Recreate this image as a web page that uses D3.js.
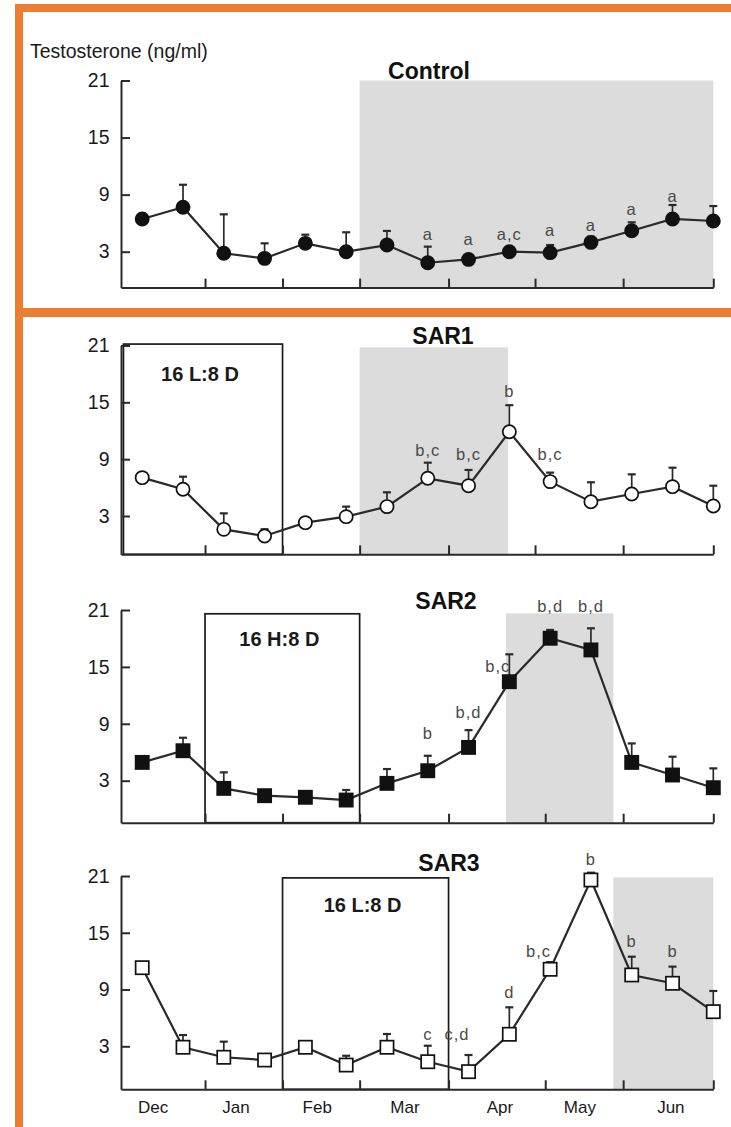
<!DOCTYPE html>
<html>
<head>
<meta charset="utf-8">
<script src="https://cdn.jsdelivr.net/npm/d3@7"></script>
<style>
  body { margin: 0; background: #fff; }
  svg text { font-family: "Liberation Sans", Arial, sans-serif; }
</style>
</head>
<body>
<div id="chart"></div>
<script>
const W = 731
const H = 1127

// --- Data ---

// sample index (two-week sampling, Dec to Jun)
const samples = [0, 1, 2, 3, 4, 5, 6, 7, 8, 9, 10, 11, 12, 13, 14]

// month labels and where they sit (in sample units)
const months = ["Dec", "Jan", "Feb", "Mar", "Apr", "May", "Jun"]
const monthPos = [0.27, 2.30, 4.29, 6.44, 8.77, 10.73, 12.96]

// month boundary ticks (in sample units)
const ticksUpper = [1.54, 3.44, 5.33, 7.51, 9.63, 11.79, 14]
const ticksLower = [1.54, 3.44, 5.33, 7.51, 9.88, 11.79, 14]

const yTicks = [3, 9, 15, 21]

// testosterone means (ng/ml)
const controlMean = [6.44, 7.67, 2.83, 2.3, 3.88, 3.0, 3.7, 1.84, 2.19, 3.0, 2.9, 3.98, 5.2, 6.44, 6.23]
const sar1Mean = [7.05, 5.82, 1.59, 0.89, 2.3, 2.93, 3.99, 6.98, 6.2, 11.9, 6.63, 4.51, 5.32, 6.1, 4.06]
const sar2Mean = [4.93, 6.16, 2.19, 1.42, 1.25, 0.96, 2.72, 4.05, 6.51, 13.44, 18.02, 16.79, 4.93, 3.6, 2.26]
const sar3Mean = [11.31, 2.9, 1.84, 1.55, 2.9, 1.02, 2.9, 1.37, 0.32, 4.27, 11.14, 20.58, 10.54, 9.66, 6.66]

// upper error bar (SEM)
const controlErr = [0, 2.37, 4.1, 1.58, 0.91, 2.04, 1.48, 1.69, 0, 0, 0.8, 0.6, 0.89, 1.47, 1.57]
const sar1Err = [0, 1.33, 1.69, 0.71, 0, 1.06, 1.51, 1.65, 1.66, 2.8, 0.95, 2.05, 2.08, 2.0, 2.14]
const sar2Err = [0, 1.37, 1.69, 0, 0, 1.06, 1.51, 1.58, 1.82, 2.89, 0.88, 2.28, 2.0, 1.93, 2.04]
const sar3Err = [0, 1.29, 1.65, 0.3, 0, 0.98, 1.4, 1.69, 1.76, 2.85, 0.76, 0.77, 1.93, 1.76, 2.19]

// significance letters: [sample, text, y value of baseline, anchor]
const controlLetters = [[7, "a", 4.23], [8, "a", 3.7], [9, "a,c", 4.23], [10, "a", 4.65], [11, "a", 5.18], [12, "a", 6.86], [13, "a", 8.26]]
const sar1Letters = [[7, "b,c", 9.34], [8, "b,c", 8.91], [9, "b", 15.53], [10, "b,c", 8.91]]
const sar2Letters = [[7, "b", 7.37], [8, "b,d", 9.58], [9, "b,c", 14.43, "end"], [10, "b,d", 20.83], [11, "b,d", 20.83]]
const sar3Letters = [[7, "c", 3.67], [8, "c,d", 3.67, "end"], [9, "d", 8.1], [10, "b,c", 12.47, "end"], [11, "b", 22.17], [12, "b", 13.47], [13, "b", 12.41]]

// grey shaded periods [from, to, top]
const controlShade = [5.33, 14, 21]
const sar1Shade = [5.33, 8.97, 20.8]
const sar2Shade = [8.92, 11.55, 20.65]
const sar3Shade = [11.55, 14, 20.86]

// long-day boxes [from, to, top, label]
const sar1Box = [-0.46, 3.44, 21.15, "16 L:8 D"]
const sar2Box = [1.54, 5.33, 20.6, "16 H:8 D"]
const sar3Box = [3.44, 7.51, 20.8, "16 L:8 D"]

// --- Layout ---
const panels = [
  { title: "Control", mean: controlMean, err: controlErr, letters: controlLetters, shade: controlShade, box: null,
    marker: "circle", fill: "#111", ticks: ticksUpper, y3: 251.7, y21: 80.5, axisY: 287.6, titleX: 429, titleY: 79 },
  { title: "SAR1", mean: sar1Mean, err: sar1Err, letters: sar1Letters, shade: sar1Shade, box: sar1Box,
    marker: "circle", fill: "#fff", ticks: ticksUpper, y3: 516, y21: 345.5, axisY: 554.3, titleX: 443, titleY: 344 },
  { title: "SAR2", mean: sar2Mean, err: sar2Err, letters: sar2Letters, shade: sar2Shade, box: sar2Box,
    marker: "square", fill: "#111", ticks: ticksLower, y3: 780.7, y21: 610, axisY: 822.7, titleX: 446, titleY: 609 },
  { title: "SAR3", mean: sar3Mean, err: sar3Err, letters: sar3Letters, shade: sar3Shade, box: sar3Box,
    marker: "square", fill: "#fff", ticks: ticksLower, y3: 1046.3, y21: 876, axisY: 1089.3, titleX: 449, titleY: 871 }
]

const ink = "#1a1a1a"
const orange = "#ED7D31"

const svg = d3.select("#chart")
  .append("svg")
    .attr("width", W)
    .attr("height", H)

// orange frame
svg.append("rect").attr("x", 15).attr("y", 4).attr("width", W - 15).attr("height", 8).attr("fill", orange)
svg.append("rect").attr("x", 15).attr("y", 4).attr("width", 8).attr("height", H - 4).attr("fill", orange)
svg.append("rect").attr("x", 15).attr("y", 308).attr("width", W - 15).attr("height", 9).attr("fill", orange)

const xScale = d3.scaleLinear()
  .domain([-0.52, 14])
  .range([121, 713.3])

svg.append("text")
  .attr("x", 30)
  .attr("y", 58)
  .attr("font-size", 19.5)
  .attr("fill", ink)
  .text("Testosterone (ng/ml)")

const drawPanel = (p) => {
  // y scale: 3 and 21 fixed, axis sits a little below zero
  const base = d3.scaleLinear().domain([3, 21]).range([p.y3, p.y21])
  const yMin = base.invert(p.axisY)
  const yScale = d3.scaleLinear().domain([yMin, 21]).range([p.axisY, p.y21])

  const g = svg.append("g")

  // shaded period
  g.append("rect")
    .attr("x", xScale(p.shade[0]))
    .attr("y", yScale(p.shade[2]))
    .attr("width", xScale(p.shade[1]) - xScale(p.shade[0]))
    .attr("height", p.axisY - yScale(p.shade[2]))
    .attr("fill", "#dcdcdc")

  // photoperiod box
  if (p.box) {
    g.append("rect")
      .attr("x", xScale(p.box[0]))
      .attr("y", yScale(p.box[2]))
      .attr("width", xScale(p.box[1]) - xScale(p.box[0]))
      .attr("height", p.axisY - yScale(p.box[2]))
      .attr("fill", "none")
      .attr("stroke", ink)
      .attr("stroke-width", 1.7)
    g.append("text")
      .attr("x", (xScale(p.box[0]) + xScale(p.box[1])) / 2 - 3)
      .attr("y", yScale(17.2))
      .attr("text-anchor", "middle")
      .attr("font-size", 20)
      .attr("font-weight", "bold")
      .attr("fill", ink)
      .text(p.box[3])
  }

  // axes
  const yAxis = g.append("g")
    .attr("transform", `translate(${xScale.range()[0]}, 0)`)
    .call(d3.axisLeft(yScale).tickValues(yTicks).tickSize(-9).tickSizeOuter(0).tickPadding(11.5))
  const xAxis = g.append("g")
    .attr("transform", `translate(0, ${p.axisY})`)
    .call(d3.axisBottom(xScale).tickValues(p.ticks).tickSize(-9).tickSizeOuter(0).tickFormat(""))

  ;[yAxis, xAxis].forEach(a => {
    a.select(".domain").attr("stroke", "#2a2a2a").attr("stroke-width", 2)
    a.selectAll(".tick line").attr("stroke", "#2a2a2a").attr("stroke-width", 2)
  })
  yAxis.selectAll(".tick text")
    .attr("font-size", 19.5)
    .attr("fill", ink)
    .attr("font-family", "Liberation Sans, Arial, sans-serif")

  // connecting line
  const line = d3.line()
    .x(i => xScale(i))
    .y(i => yScale(p.mean[i]))
  g.append("path")
    .datum(samples)
    .attr("d", line)
    .attr("fill", "none")
    .attr("stroke", "#2a2a2a")
    .attr("stroke-width", 2.2)

  // error bars (upper only)
  const withErr = samples.filter(i => p.err[i] > 0)
  g.selectAll(".err")
    .data(withErr)
    .join("line")
      .attr("x1", i => xScale(i))
      .attr("x2", i => xScale(i))
      .attr("y1", i => yScale(p.mean[i]))
      .attr("y2", i => yScale(p.mean[i] + p.err[i]))
      .attr("stroke", "#2a2a2a")
      .attr("stroke-width", 1.7)
  g.selectAll(".cap")
    .data(withErr)
    .join("line")
      .attr("x1", i => xScale(i) - 4)
      .attr("x2", i => xScale(i) + 4)
      .attr("y1", i => yScale(p.mean[i] + p.err[i]))
      .attr("y2", i => yScale(p.mean[i] + p.err[i]))
      .attr("stroke", "#2a2a2a")
      .attr("stroke-width", 2.2)

  // markers
  if (p.marker === "circle") {
    g.selectAll(".pt")
      .data(samples)
      .join("circle")
        .attr("cx", i => xScale(i))
        .attr("cy", i => yScale(p.mean[i]))
        .attr("r", 6.6)
        .attr("fill", p.fill)
        .attr("stroke", "#111")
        .attr("stroke-width", 1.7)
  } else {
    g.selectAll(".pt")
      .data(samples)
      .join("rect")
        .attr("x", i => xScale(i) - 6.6)
        .attr("y", i => yScale(p.mean[i]) - 6.6)
        .attr("width", 13.2)
        .attr("height", 13.2)
        .attr("fill", p.fill)
        .attr("stroke", "#111")
        .attr("stroke-width", 1.7)
  }

  // significance letters
  g.selectAll(".letter")
    .data(p.letters)
    .join("text")
      .attr("x", d => d[3] === "end" ? xScale(d[0]) + 1 : xScale(d[0]))
      .attr("y", d => yScale(d[2]))
      .attr("text-anchor", d => d[3] || "middle")
      .attr("font-size", 16.5)
      .attr("letter-spacing", 1)
      .attr("fill", "#4a4a4a")
      .text(d => d[1])

  // panel title
  g.append("text")
    .attr("x", p.titleX)
    .attr("y", p.titleY)
    .attr("text-anchor", "middle")
    .attr("font-size", 23)
    .attr("font-weight", "bold")
    .attr("fill", "#111")
    .text(p.title)
}

panels.forEach(drawPanel)

// month labels under the last panel
svg.selectAll(".month")
  .data(months)
  .join("text")
    .attr("x", (d, i) => xScale(monthPos[i]))
    .attr("y", 1113.3)
    .attr("text-anchor", "middle")
    .attr("font-size", 17)
    .attr("fill", ink)
    .text(d => d)
</script>
</body>
</html>
